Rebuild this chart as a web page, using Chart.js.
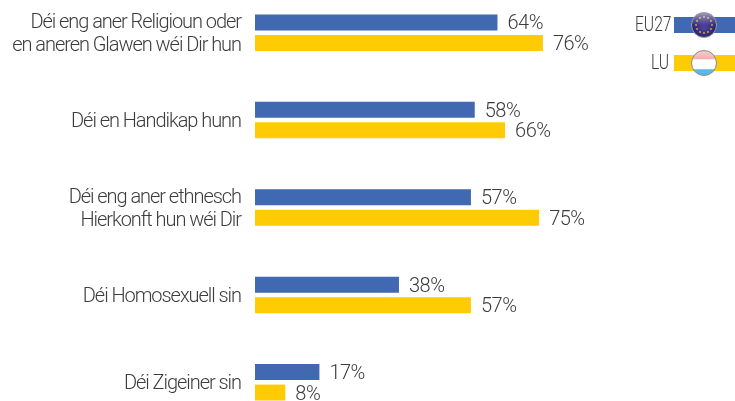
<!DOCTYPE html>
<html><head><meta charset="utf-8">
<style>html,body{margin:0;padding:0;background:#fff;overflow:hidden;width:735px;height:401px}
#w{position:absolute;left:0;top:-11px;width:735px;height:437px}</style>
<script src="https://cdn.jsdelivr.net/npm/chart.js@4"></script></head>
<body><div id="w"><canvas id="c" style="display:block;width:735px;height:437px"></canvas></div>
<script>
const categories=[["Déi eng aner Religioun oder","en aneren Glawen wéi Dir hun"],"Déi en Handikap hunn",["Déi eng aner ethnesch","Hierkonft hun wéi Dir"],"Déi Homosexuell sin","Déi Zigeiner sin"];
const eu27=[64,58,57,38,17];
const lu=[76,66,75,57,8];
const seriesNames=["EU27","LU"];
const seriesColors=["#4169b2","#ffcb05"];
const tightText={id:'tightText',beforeDraw(ch){ch.ctx.letterSpacing='-1.05px';}};
const valueLabels={id:'valueLabels',afterDatasetsDraw(ch){const x=ch.ctx;x.save();x.font='300 20px Roboto';x.letterSpacing='-0.5px';x.fillStyle='#3c3c3c';x.textBaseline='middle';x.textAlign='left';
 ch.data.datasets.forEach((d,i)=>{ch.getDatasetMeta(i).data.forEach((b,j)=>{x.fillText(d.data[j]+'%',b.x+10,b.y+2);});});x.restore();}};
const legendFlags={id:'legendFlags',afterDraw(ch){const x=ch.ctx;x.save();const off=11;
 const rows=[{y:25,lx:635,c:seriesColors[0],n:seriesNames[0]},{y:63,lx:651,c:seriesColors[1],n:seriesNames[1]}];
 rows.forEach((r,i)=>{const cy=r.y+off;x.fillStyle=r.c;x.fillRect(674,cy-8,61,16);
  x.save();x.translate(r.lx,cy+1);x.scale(0.78,1);x.font='300 20px Roboto';x.letterSpacing='0px';x.fillStyle='#3c3c3c';x.textBaseline='middle';x.textAlign='left';x.fillText(r.n,0,0);x.restore();
  const fx=704,R=12.5;x.save();x.beginPath();x.arc(fx,cy,R,0,Math.PI*2);x.clip();
  if(i==0){const g=x.createRadialGradient(fx,cy+2,2,fx,cy,R);g.addColorStop(0,'#4a3f98');g.addColorStop(1,'#2a2468');x.fillStyle=g;x.fillRect(fx-R,cy-R,2*R,2*R);
   x.fillStyle='#c9a24a';for(let k=0;k<12;k++){const a=k*Math.PI/6;x.beginPath();x.arc(fx+8*Math.cos(a),cy+8*Math.sin(a),1,0,7);x.fill();}
  }else{x.fillStyle='#f29a9a';x.fillRect(fx-R,cy-R,2*R,R*.75);x.fillStyle='#fff';x.fillRect(fx-R,cy-R*.3,2*R,R*.85);x.fillStyle='#5cb8ea';x.fillRect(fx-R,cy+R*.5,2*R,R);}
  const h=x.createLinearGradient(0,cy-R,0,cy);h.addColorStop(0,'rgba(255,255,255,.55)');h.addColorStop(1,'rgba(255,255,255,0)');x.fillStyle=h;x.fillRect(fx-R,cy-R,2*R,R);
  x.restore();x.strokeStyle=i==0?'#9a9ab0':'#8a8a8a';x.lineWidth=1;x.beginPath();x.arc(fx,cy,R,0,Math.PI*2);x.stroke();
 });x.restore();}};
new Chart(document.getElementById('c'),{type:'bar',
 data:{labels:categories,datasets:[
  {label:seriesNames[0],data:eu27,backgroundColor:seriesColors[0],categoryPercentage:.4686,barPercentage:.78},
  {label:seriesNames[1],data:lu,backgroundColor:seriesColors[1],categoryPercentage:.4686,barPercentage:.78}]},
 options:{indexAxis:'y',responsive:false,maintainAspectRatio:false,animation:false,
  layout:{autoPadding:false,padding:0},
  plugins:{legend:{display:false},tooltip:{enabled:false}},
  scales:{
   x:{min:0,max:126.7,display:false},
   y:{afterFit(s){s.width=255;s.paddingTop=0;s.paddingBottom=0;},grid:{display:false,drawTicks:false},border:{display:false},
      ticks:{color:'#3c3c3c',font:{family:'Roboto',size:20,weight:'300',lineHeight:1.15},padding:14,labelOffset:2,autoSkip:false}}
  }},
 plugins:[tightText,valueLabels,legendFlags]});
</script></body></html>
